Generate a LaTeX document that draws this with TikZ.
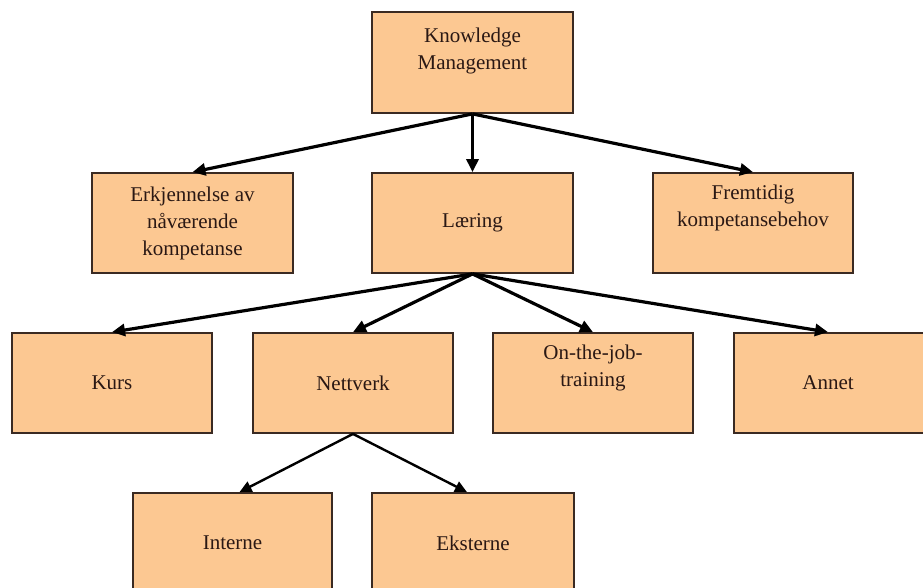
\documentclass[tikz,border=0pt]{standalone}
\usepackage{fontspec}
\setmainfont{Liberation Serif}
\usetikzlibrary{arrows.meta}
\definecolor{boxfill}{HTML}{FCC892}
\definecolor{boxline}{HTML}{3A2A22}
\definecolor{txt}{HTML}{2A1814}
\tikzset{
  kbox/.style={draw=boxline, line width=1.8pt, fill=boxfill, minimum height=100pt, minimum width=200pt, inner sep=0pt, align=center, text=txt, font=\fontsize{21}{27}\selectfont},
  bigarrow/.style={line width=3.2pt, -{Triangle[length=13pt,width=12pt]}},
  smallarrow/.style={line width=2.4pt, -{Triangle[length=12pt,width=11pt]}}
}
\begin{document}
\begin{tikzpicture}[x=1pt,y=-1pt]
\useasboundingbox (0,0) rectangle (923,588);
\fill[white] (0,0) rectangle (923,588);
\clip (0,0) rectangle (923,588);
\node[kbox, minimum width=201pt, minimum height=101pt] (km) at (472.5,62.5) {Knowledge\\Management\\[-8pt]\strut};
\node[kbox, minimum width=201pt] (erk) at (192.5,223) {Erkjennelse av\\nåværende\\kompetanse};
\node[kbox, minimum width=201pt] (laer) at (472.5,223) {Læring};
\node[kbox] (frem) at (753,223) {Fremtidig\\kompetansebehov\\\strut};
\node[kbox] (kurs) at (112,383) {Kurs};
\node[kbox] (nett) at (353,383) {Nettverk};
\node[kbox] (ojt) at (593,383) {On-the-job-\\training\\\strut};
\node[kbox, minimum width=240pt] (annet) at (854,383) {\hspace*{-52pt}Annet};
\node[kbox, minimum width=199pt] (int) at (232.5,543) {Interne};
\node[kbox, minimum width=202pt] (eks) at (473,543) {Eksterne};
\draw[bigarrow] (km.south) -- (erk.north);
\draw[bigarrow] (km.south) -- (laer.north);
\draw[bigarrow] (km.south) -- (frem.north);
\draw[bigarrow] (laer.south) -- (kurs.north);
\draw[bigarrow] (laer.south) -- (nett.north);
\draw[bigarrow] (laer.south) -- (ojt.north);
\draw[bigarrow] (laer.south) -- ([xshift=-26pt]annet.north);
\draw[smallarrow] (nett.south) -- ([xshift=7pt]int.north);
\draw[smallarrow] (nett.south) -- ([xshift=-6pt]eks.north);
\end{tikzpicture}
\end{document}
